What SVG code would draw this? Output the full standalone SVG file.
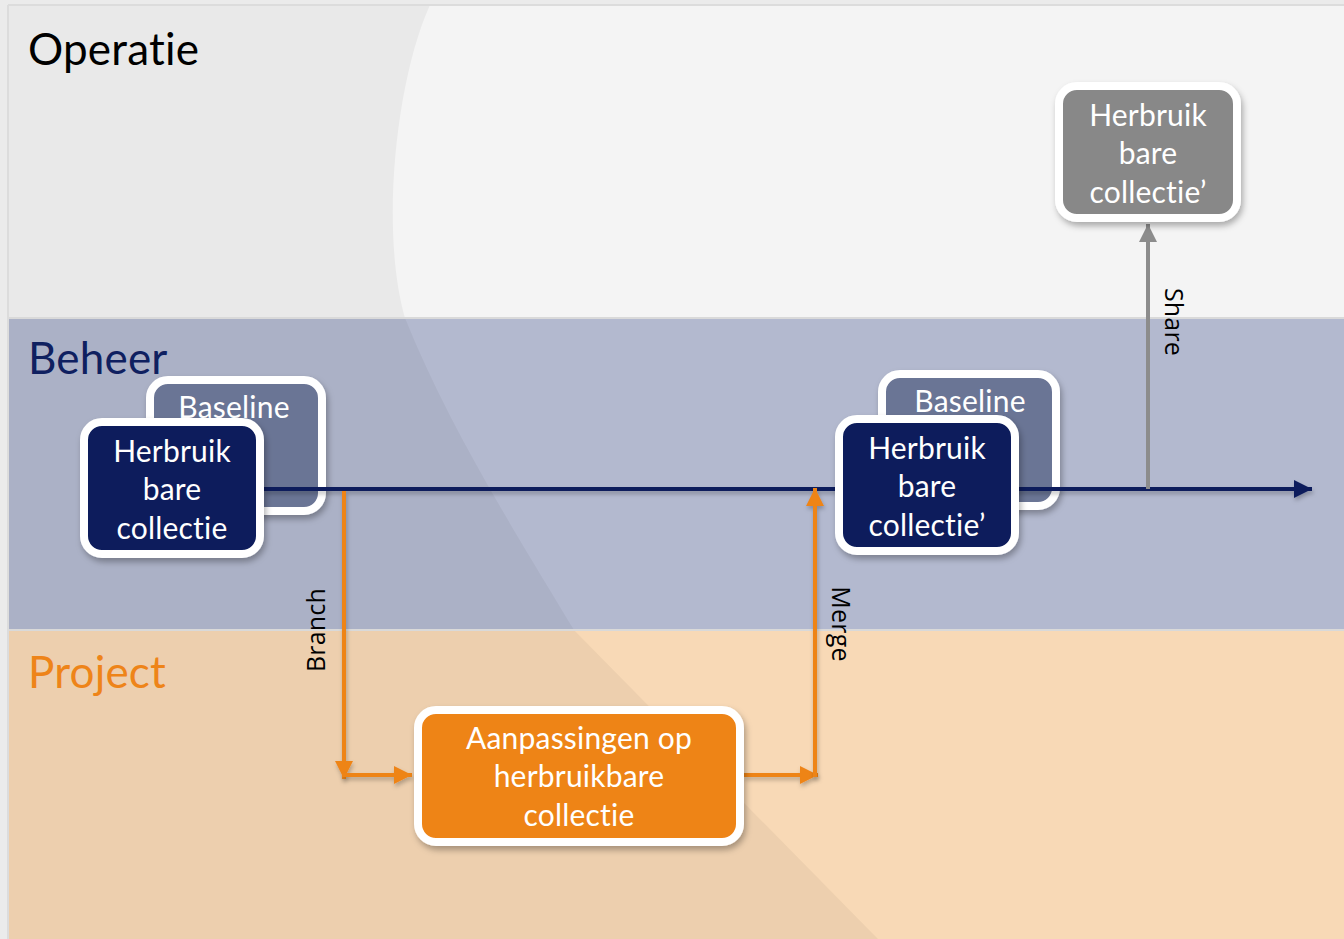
<svg xmlns="http://www.w3.org/2000/svg" width="1344" height="939" viewBox="0 0 1344 939">
<style>
text{font-variant-ligatures:none;font-feature-settings:"liga" 0,"clig" 0;letter-spacing:0.2px}
.title{font-family:Lato,"Open Sans",sans-serif;font-size:44px}
.ntxt{font-family:Lato,"Open Sans",sans-serif;font-size:30px;fill:#fff;text-anchor:middle}
.lbl{font-family:"Open Sans","DejaVu Sans",sans-serif;font-size:25px;fill:#000;text-anchor:middle}
.box{stroke:#fff;stroke-width:8;filter:url(#sh)}
.cn{stroke-width:4;fill:none;filter:url(#lsh)}
</style>
<defs>
<filter id="sh" x="-20%" y="-20%" width="140%" height="150%">
<feDropShadow dx="2" dy="4" stdDeviation="3" flood-color="#000" flood-opacity="0.3"/>
</filter>
<filter id="lsh" filterUnits="userSpaceOnUse" x="0" y="0" width="1344" height="939">
<feDropShadow dx="1" dy="3" stdDeviation="2" flood-color="#000" flood-opacity="0.25"/>
</filter>
<marker id="aN" markerUnits="userSpaceOnUse" markerWidth="22" markerHeight="22" refX="20" refY="11" orient="auto"><path d="M2,2 L20,11 L2,20 Z" fill="#0c1d5b"/></marker>
<marker id="aO" markerUnits="userSpaceOnUse" markerWidth="22" markerHeight="22" refX="20" refY="11" orient="auto"><path d="M2,2 L20,11 L2,20 Z" fill="#ee8419"/></marker>
<marker id="aG" markerUnits="userSpaceOnUse" markerWidth="22" markerHeight="22" refX="20" refY="11" orient="auto"><path d="M2,2 L20,11 L2,20 Z" fill="#8c8c8c"/></marker>
</defs>
<!-- background -->
<rect x="0" y="0" width="1344" height="939" fill="#ebebeb"/>
<rect x="8" y="5" width="1336" height="313" fill="#f4f4f4"/>
<rect x="8" y="318" width="1336" height="312" fill="#b3b9cf"/>
<rect x="8" y="630" width="1336" height="309" fill="#f8d9b6"/>
<path d="M8,5 L430,5 C396,80 380,230 405,318 C450,430 520,540 574,630 L878,939 L8,939 Z" fill="#000" opacity="0.045"/>
<line x1="8" y1="318" x2="1344" y2="318" stroke="#d9d9d9" stroke-width="2"/>
<line x1="8" y1="630" x2="1344" y2="630" stroke="#d9d9d9" stroke-width="2"/>
<line x1="8" y1="5" x2="1344" y2="5" stroke="#dcdcdc" stroke-width="2"/>
<line x1="8" y1="5" x2="8" y2="939" stroke="#dcdcdc" stroke-width="2"/>
<text class="title" x="28" y="65" fill="#000">Operatie</text>
<text class="title" x="28" y="374" fill="#0f2060">Beheer</text>
<text class="title" x="28" y="688" fill="#ee8419">Project</text>

<g id="baseline1"><rect class="box" x="150" y="380" width="172" height="131" rx="18" fill="#6a7495"/><text class="ntxt" x="234" y="418">Baseline</text></g>
<g id="baseline2"><rect class="box" x="882" y="374" width="174" height="132" rx="18" fill="#6a7495"/><text class="ntxt" x="970" y="412">Baseline</text></g>

<g id="connectors">
<line class="cn" x1="264" y1="489" x2="1312" y2="489" stroke="#0c1d5b" marker-end="url(#aN)"/>
<line class="cn" x1="344" y1="491" x2="344" y2="779" stroke="#ee8419" marker-end="url(#aO)"/>
<line class="cn" x1="342" y1="775" x2="412" y2="775" stroke="#ee8419" marker-end="url(#aO)"/>
<line class="cn" x1="744" y1="775" x2="818" y2="775" stroke="#ee8419" marker-end="url(#aO)"/>
<line class="cn" x1="815" y1="777" x2="815" y2="488" stroke="#ee8419" marker-end="url(#aO)"/>
<line x1="1148" y1="489" x2="1148" y2="224" stroke="#8c8c8c" stroke-width="4" marker-end="url(#aG)"/>
<text class="lbl" transform="translate(325,630) rotate(-90)">Branch</text>
<text class="lbl" transform="translate(832,624) rotate(90)">Merge</text>
<text class="lbl" transform="translate(1165,322) rotate(90)">Share</text>
</g>

<g id="herbruik1"><rect class="box" x="84" y="422" width="176" height="132" rx="18" fill="#0c1d5b"/><text class="ntxt" x="172" y="462">Herbruik</text><text class="ntxt" x="172" y="500">bare</text><text class="ntxt" x="172" y="539">collectie</text></g>
<g id="herbruik2"><rect class="box" x="839" y="419" width="176" height="132" rx="18" fill="#0c1d5b"/><text class="ntxt" x="927" y="459">Herbruik</text><text class="ntxt" x="927" y="497">bare</text><text class="ntxt" x="927" y="536">collectie’</text></g>
<g id="herbruik3"><rect class="box" x="1059" y="86" width="178" height="132" rx="18" fill="#888888"/><text class="ntxt" x="1148" y="126">Herbruik</text><text class="ntxt" x="1148" y="164">bare</text><text class="ntxt" x="1148" y="203">collectie’</text></g>
<g id="aanpassingen"><rect class="box" x="418" y="710" width="322" height="132" rx="18" fill="#ee8419"/><text class="ntxt" x="579" y="749">Aanpassingen op</text><text class="ntxt" x="579" y="787">herbruikbare</text><text class="ntxt" x="579" y="826">collectie</text></g>
</svg>
